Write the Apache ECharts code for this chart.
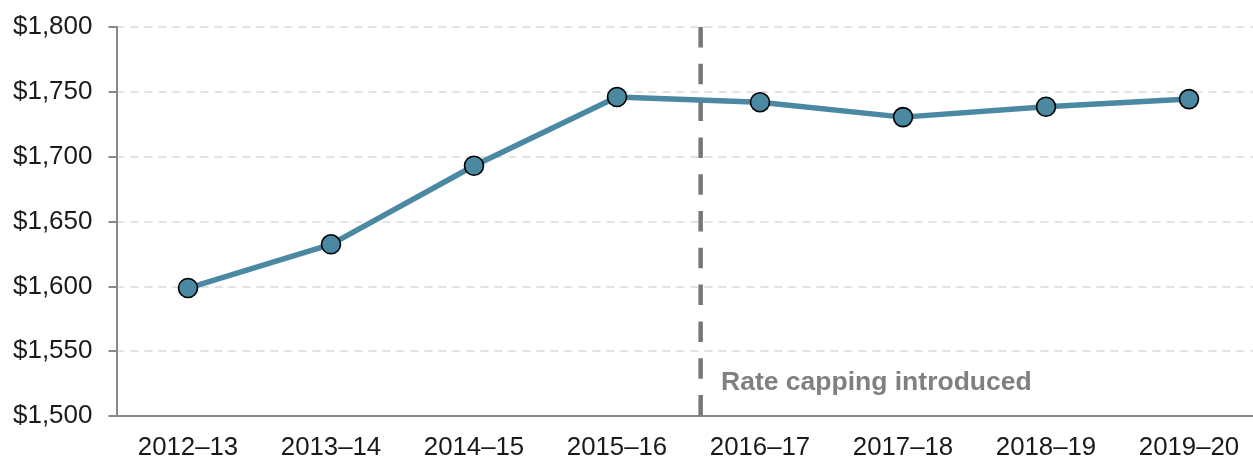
<!DOCTYPE html>
<html>
<head>
<meta charset="utf-8">
<script src="https://cdn.jsdelivr.net/npm/echarts@6/dist/echarts.min.js"></script>
<style>
  html, body { margin: 0; padding: 0; background: #fff; }
  #chart { width: 1253px; height: 459px; }
</style>
</head>
<body>
<div id="chart"></div>
<script>
const years = ["2012–13", "2013–14", "2014–15", "2015–16", "2016–17", "2017–18", "2018–19", "2019–20"];
const rates = [1598.7, 1632.4, 1693, 1746, 1742, 1730.5, 1738.5, 1744.4];
// where the cap came in, measured in category widths from the left edge
const capPos = [4.085, 4.085];
const capRange = [1800, 1500];
const capLabel = "Rate capping introduced";

const font = "Liberation Sans, Arial, sans-serif";
const chart = echarts.init(document.getElementById("chart"));

chart.setOption({
  animation: false,
  grid: { left: 116.5, width: 1144, top: 27, height: 389, outerBoundsMode: "none" },
  xAxis: [
    {
      type: "category",
      data: years,
      axisLine: { lineStyle: { color: "#888", width: 2 } },
      axisTick: { alignWithLabel: true, inside: true, length: 5, lineStyle: { color: "#888", width: 2 } },
      axisLabel: { color: "#1a1a1a", fontSize: 25.8, fontFamily: font, margin: 19 }
    },
    {
      type: "value",
      min: 0,
      max: 8,
      show: false
    }
  ],
  yAxis: {
    type: "value",
    min: 1500,
    max: 1800,
    interval: 50,
    axisLine: { show: true, lineStyle: { color: "#888", width: 2 } },
    axisTick: { show: true, length: 8, lineStyle: { color: "#888", width: 2 } },
    axisLabel: {
      color: "#1a1a1a",
      fontSize: 26,
      fontFamily: font,
      margin: 24,
      formatter: (v) => "$" + v.toLocaleString("en-US")
    },
    splitLine: { lineStyle: { color: "#d9d9d9", width: 1.5, type: [8, 6] } }
  },
  series: [
    {
      type: "line",
      xAxisIndex: 1,
      data: capPos.map((x, i) => [x, capRange[i]]),
      symbol: "none",
      lineStyle: { color: "#777", width: 4.5, type: [20.5, 16.3] },
      z: 1
    },
    {
      type: "line",
      data: rates,
      symbol: "circle",
      symbolSize: 19,
      lineStyle: { color: "#4a89a1", width: 5.5 },
      itemStyle: { color: "#4a89a1", borderColor: "#000", borderWidth: 1.6 },
      z: 3
    }
  ],
  graphic: [
    {
      type: "text",
      left: 721,
      top: 369,
      style: {
        text: capLabel,
        fill: "#808080",
        font: "bold 26.5px " + font
      }
    }
  ]
});
</script>
</body>
</html>
